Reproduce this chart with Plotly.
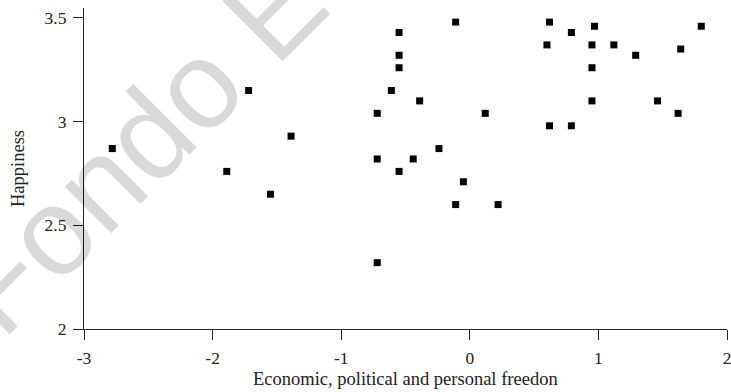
import plotly.graph_objects as go

# Data
freedom = [-2.78, -1.89, -1.72, -1.39, -1.55, -0.72, -0.72, -0.72, -0.61,
           -0.55, -0.55, -0.55, -0.55, -0.44, -0.39, -0.24, -0.11, -0.11,
           -0.05, 0.12, 0.22, 0.60, 0.62, 0.62, 0.79, 0.79, 0.95, 0.95,
           0.95, 0.97, 1.12, 1.29, 1.46, 1.62, 1.64, 1.80]
happiness = [2.87, 2.76, 3.15, 2.93, 2.65, 3.04, 2.82, 2.32, 3.15,
             3.43, 3.32, 3.26, 2.76, 2.82, 3.10, 2.87, 3.48, 2.60,
             2.71, 3.04, 2.60, 3.37, 3.48, 2.98, 3.43, 2.98, 3.37, 3.26,
             3.10, 3.46, 3.37, 3.32, 3.10, 3.04, 3.35, 3.46]

x_tick_vals = [-3, -2, -1, 0, 1, 2]
x_tick_labels = ["-3", "-2", "-1", "0", "1", "2"]
y_tick_vals = [2, 2.5, 3, 3.5]
y_tick_labels = ["2", "2.5", "3", "3.5"]

x_title = "Economic, political and personal freedon"
y_title = "Happiness"
watermark = "Fondo Editorial"

serif = "Liberation Serif, Times New Roman, serif"

fig = go.Figure()
fig.add_trace(go.Scatter(
    x=freedom, y=happiness, mode="markers",
    marker=dict(symbol="square", size=7, color="black", line=dict(width=0)),
    showlegend=False, hoverinfo="skip",
))

axis_common = dict(
    showline=True, linecolor="#222", linewidth=1.2,
    ticks="outside", ticklen=10, tickwidth=1.2, tickcolor="#222",
    showgrid=False, zeroline=False, automargin=False,
    ticklabeloverflow="allow",
    tickfont=dict(family=serif, size=17.5, color="#222"),
)

fig.update_layout(
    width=731, height=392,
    margin=dict(l=84, r=4, t=8, b=63, autoexpand=False),
    paper_bgcolor="white", plot_bgcolor="white",
    xaxis=dict(range=[-3, 2], tickmode="array", tickvals=x_tick_vals,
               ticktext=x_tick_labels, ticklabelstandoff=3, **axis_common),
    yaxis=dict(range=[2, 3.548], tickmode="array", tickvals=y_tick_vals,
               ticktext=y_tick_labels, ticklabelstandoff=3, **axis_common),
    annotations=[
        dict(text=watermark, xref="paper", yref="paper", x=0.285, y=0.975,
             xanchor="center", yanchor="middle", textangle=-45,
             showarrow=False,
             font=dict(family="Liberation Sans, Arial, sans-serif", size=124,
                       color="rgba(0,0,0,0.15)")),
        dict(text=x_title, xref="paper", yref="paper", x=0.5, y=-0.155,
             xanchor="center", yanchor="middle", showarrow=False,
             font=dict(family=serif, size=18.5, color="#222")),
        dict(text=y_title, xref="paper", yref="paper", x=-0.1034, y=0.5,
             xanchor="center", yanchor="middle", textangle=-90,
             showarrow=False,
             font=dict(family=serif, size=18.5, color="#222")),
    ],
)

fig.write_html(
    "out.html",
    config={"displayModeBar": False},
    post_script="document.body.style.margin='0';document.body.style.overflow='hidden';",
)
